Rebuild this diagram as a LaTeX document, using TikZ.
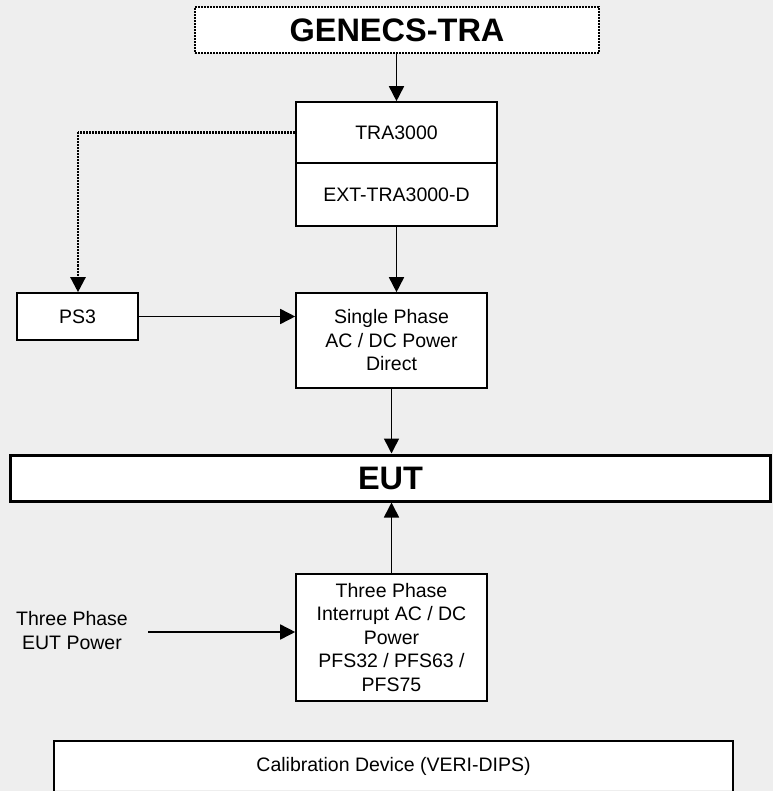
\documentclass[tikz,border=0pt]{standalone}
\usepackage{fontspec}
\setmainfont{Liberation Sans}
\usetikzlibrary{arrows.meta}
\definecolor{bggray}{HTML}{EEEEEE}
\tikzset{
  box/.style={draw=black, fill=white, line width=1.6pt, rectangle, inner sep=0pt, align=center,
    font=\fontsize{19.5}{23.5}\selectfont},
  bigbox/.style={box, font=\fontsize{32.5}{36}\selectfont\bfseries},
  dotline/.style={line width=2.4pt, dash pattern=on 2pt off 1pt},
  conn/.style={line width=1.6pt, -{Triangle[length=15pt,width=15pt]}},
  plain/.style={inner sep=0pt, align=center, font=\fontsize{19.5}{23.5}\selectfont}
}
\begin{document}
\begin{tikzpicture}[x=1pt,y=-1pt]
\useasboundingbox (0,0) rectangle (773,791);
\clip (0,0) rectangle (773,791);
\fill[bggray] (0,0) rectangle (773,791);

\node[bigbox, dotline, minimum width=404pt, minimum height=46pt] (gen) at (397,30) {GENECS-TRA};
\node[box, minimum width=201pt, minimum height=61pt] (tra) at (396.5,132.5) {TRA3000};
\node[box, minimum width=201pt, minimum height=63pt] (ext) at (396.5,194.5) {EXT-TRA3000-D};
\node[box, minimum width=121pt, minimum height=47pt] (ps3) at (77.5,316.5) {PS3};
\node[box, minimum width=191pt, minimum height=95pt] (single) at (391.5,340.5) {Single Phase\\AC / DC Power\\Direct};
\node[bigbox, line width=3pt, minimum width=760pt, minimum height=46pt] (eut) at (390.5,478) {EUT};
\node[box, minimum width=191pt, minimum height=127pt] (three) at (391.5,637.5) {Three Phase\\Interrupt AC / DC\\Power\\PFS32 / PFS63 /\\PFS75};
\node[plain] (tpl) at (72,630.5) {Three Phase\\EUT Power};
\node[box, draw=none, minimum width=677pt, minimum height=48pt] (cal) at (393.5,766) {Calibration Device (VERI-DIPS)};
\draw[line width=1.6pt] ([yshift=-10pt]cal.south west) -- (cal.north west) -- (cal.north east) -- ([yshift=-10pt]cal.south east);

\coordinate (tl) at (78,132.5);
\draw[conn] (gen.south -| tra.north) -- (tra.north);
\draw[dotline] (tra.west) -- (tl);
\draw[conn, dotline] (tl) -- (tl |- ps3.north);
\draw[conn] (ext.south) -- (ext.south |- single.north);
\draw[conn] (ps3.east) -- (ps3.east -| single.west);
\draw[conn] (single.south) -- (single.south |- eut.north);
\draw[conn] (three.north) -- (three.north |- eut.south);
\coordinate (tp) at (148,632);
\draw[conn] (tp) -- (tp -| three.west);
\end{tikzpicture}
\end{document}
